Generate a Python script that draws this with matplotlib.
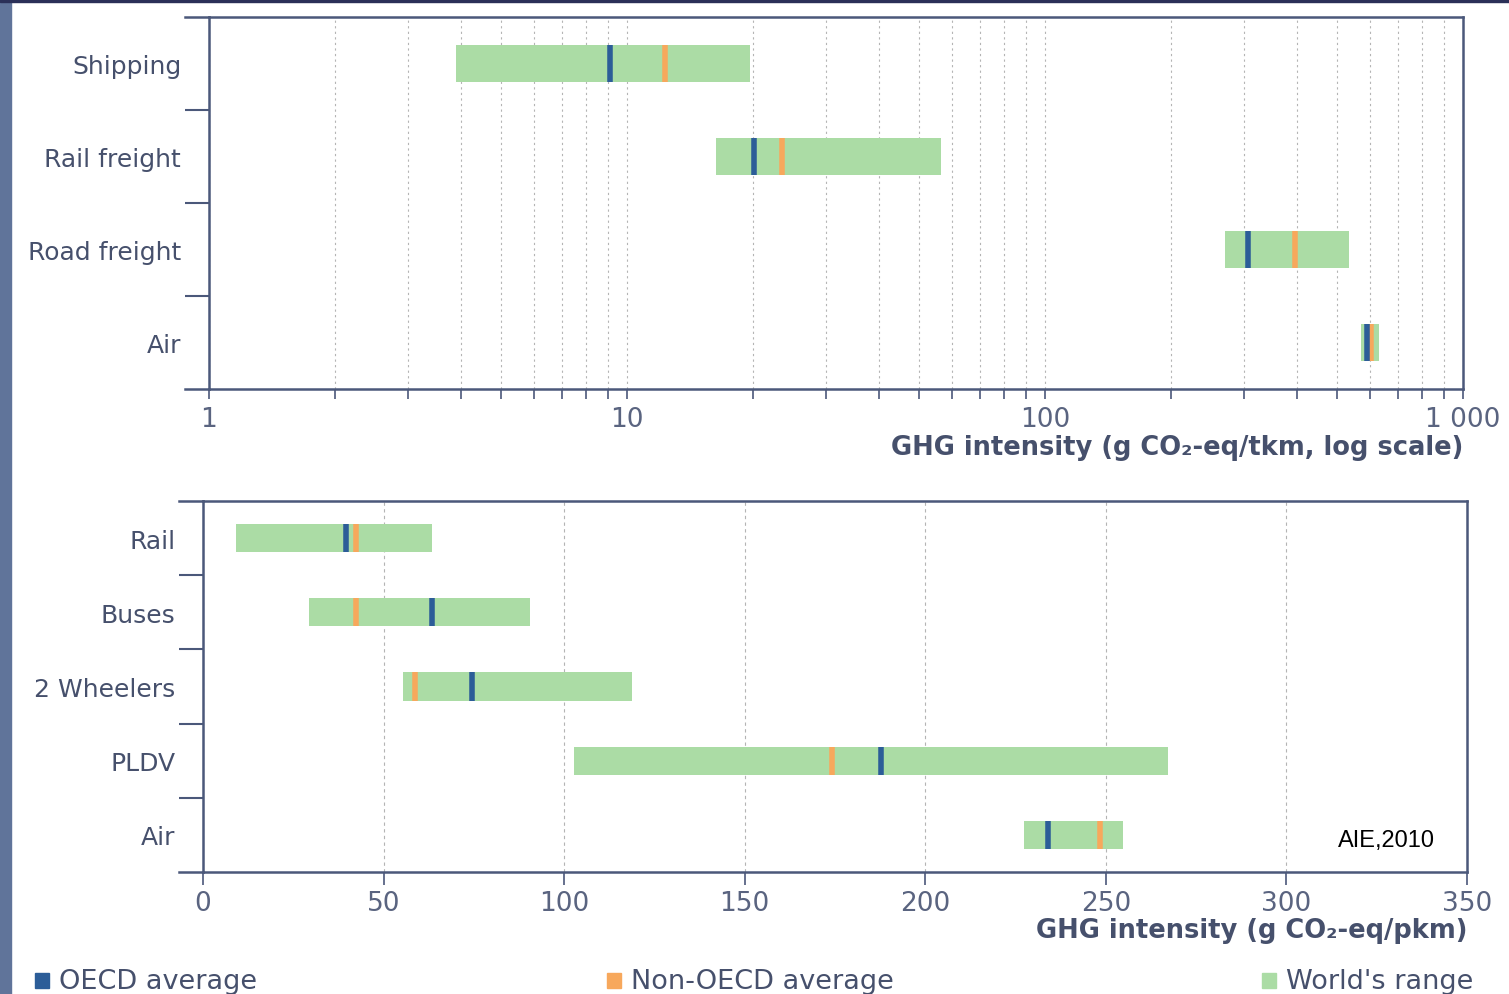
import matplotlib.pyplot as plt
import numpy as np
from matplotlib.patches import Rectangle
from matplotlib.lines import Line2D

plt.rcParams["font.family"] = ["DejaVu Sans"]

# Fret (g CO2-eq/tkm, echelle log)
freight_modes = ["Shipping", "Rail freight", "Road freight", "Air"]
freight_min = [3.9, 16.3, 270, 570]
freight_max = [19.7, 56.5, 534, 630]
freight_oecd = [9.1, 20.1, 306, 589]
freight_non_oecd = [12.3, 23.5, 396, 603]

# Passagers (g CO2-eq/pkm)
passenger_modes = ["Rail", "Buses", "2 Wheelers", "PLDV", "Air"]
passenger_min = [9.1, 29.4, 55.4, 102.8, 227.4]
passenger_max = [63.4, 90.6, 118.8, 267.3, 254.8]
passenger_oecd = [39.6, 63.4, 74.5, 187.8, 234.0]
passenger_non_oecd = [42.4, 42.4, 58.7, 174.2, 248.5]

GREEN = "#abdca5"
BLUE = "#2c5d98"
ORANGE = "#f7a85c"
SPINE = "#4b587a"
TXT = "#46506c"
TICKTXT = "#5a6480"

fig = plt.figure(figsize=(15.09, 9.95), dpi=100)

# bandes du scan (gauche et haut)
fig.add_artist(Rectangle((0, 0), 0.0075, 1, transform=fig.transFigure,
                         color="#60749a", zorder=0))
fig.add_artist(Rectangle((0, 0.997), 1, 0.003, transform=fig.transFigure,
                         color="#2b3058", zorder=0))


def draw_panel(ax, modes, lo, hi, oecd, non_oecd, bar_h):
    y = np.arange(len(modes))
    lo = np.array(lo)
    hi = np.array(hi)
    ax.barh(y, hi - lo, left=lo, height=bar_h, color=GREEN, zorder=2)
    ax.vlines(non_oecd, y - bar_h / 2, y + bar_h / 2, color=ORANGE, lw=4, zorder=3)
    ax.vlines(oecd, y - bar_h / 2, y + bar_h / 2, color=BLUE, lw=4, zorder=4)
    ax.set_ylim(len(modes) - 0.5, -0.5)
    ax.set_yticks(np.arange(len(modes) - 1) + 0.5)
    ax.set_yticklabels([])
    ax.set_yticks(y, minor=True)
    ax.set_yticklabels(modes, minor=True, fontsize=18, color=TXT)
    ax.tick_params(axis="y", which="major", length=17, width=1.5, color=SPINE)
    ax.tick_params(axis="y", which="minor", length=0, pad=20)
    for s in ["left", "bottom", "top", "right"]:
        ax.spines[s].set_color(SPINE)
        ax.spines[s].set_linewidth(1.8)
    # prolongation des lignes haut/bas a gauche de l'axe
    for yy in (0, 1):
        ax.add_line(Line2D([-0.019, 0], [yy, yy], transform=ax.transAxes,
                           color=SPINE, lw=1.8, clip_on=False))


# Panneau du haut
ax1 = fig.add_axes([0.1385, 0.608, 0.831, 0.374])
draw_panel(ax1, freight_modes, freight_min, freight_max, freight_oecd,
           freight_non_oecd, 0.39)
ax1.set_xscale("log")
ax1.set_xlim(1, 1000)
ax1.set_xticks([1, 10, 100, 1000])
ax1.set_xticklabels(["1", "10", "100", "1 000"], fontsize=19, color=TICKTXT)
ax1.tick_params(axis="x", which="both", length=7, width=1.2, color=SPINE, pad=5)
ax1.grid(True, axis="x", which="both", color="#b4b4b4", ls=(0, (2, 3)), lw=0.8, zorder=1)
ax1.set_axisbelow(True)
ax1.set_xlabel("GHG intensity (g CO\u2082-eq/tkm, log scale)", fontsize=18.5,
               fontweight="bold", color=TXT, loc="right", labelpad=2)

# Panneau du bas
ax2 = fig.add_axes([0.1345, 0.1226, 0.8377, 0.3729])
draw_panel(ax2, passenger_modes, passenger_min, passenger_max, passenger_oecd,
           passenger_non_oecd, 0.38)
ax2.set_xlim(0, 350)
ax2.set_xticks(np.arange(0, 351, 50))
ax2.set_xticklabels([str(v) for v in range(0, 351, 50)], fontsize=19, color=TICKTXT)
ax2.tick_params(axis="x", length=9, width=1.2, color=SPINE, pad=4)
ax2.grid(True, axis="x", color="#b4b4b4", ls=(0, (3, 3)), lw=0.8, zorder=1)
ax2.set_axisbelow(True)
ax2.set_xlabel("GHG intensity (g CO\u2082-eq/pkm)", fontsize=18.5, fontweight="bold",
               color=TXT, loc="right", labelpad=1)
ax2.text(0.975, 0.085, "AIE,2010", transform=ax2.transAxes, ha="right", va="center",
         fontsize=17, color="black",
         family=["Liberation Sans Narrow", "Liberation Sans", "DejaVu Sans"])

# Legende
legend_items = [("OECD average", BLUE, 0.023), ("Non-OECD average", ORANGE, 0.402),
                ("World's range", GREEN, 0.836)]
for label, col, x0 in legend_items:
    fig.add_artist(Rectangle((x0, 0.0065), 0.0095, 0.0145, transform=fig.transFigure,
                             color=col))
    fig.text(x0 + 0.016, 0.0135, label, fontsize=19.5, color=TXT, va="center", ha="left")

fig.savefig("out.png", dpi=100)
